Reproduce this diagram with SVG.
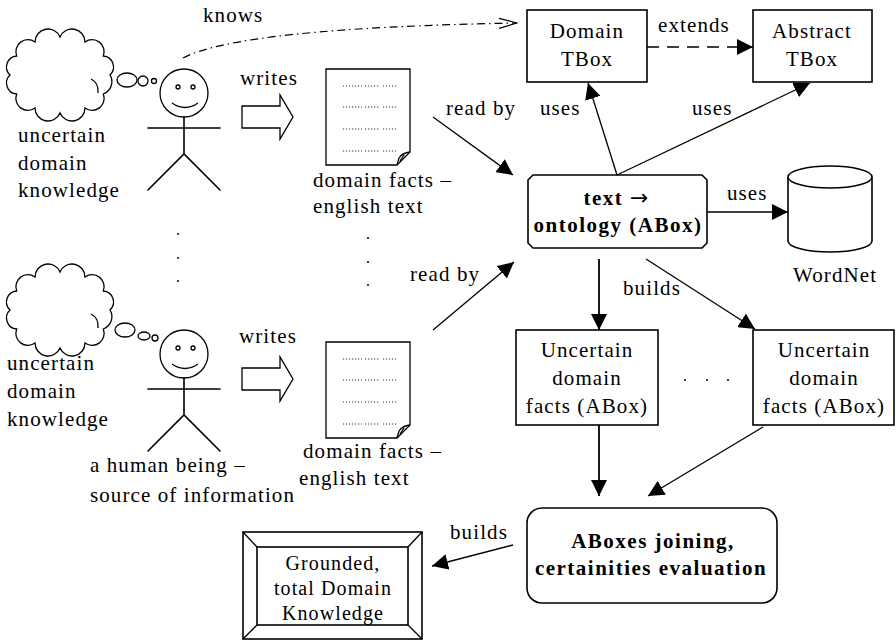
<svg xmlns="http://www.w3.org/2000/svg" width="896" height="642" viewBox="0 0 896 642">
  <style>
    text { font-family: "Liberation Serif", "Times New Roman", serif; font-size: 21px; letter-spacing: 1.1px; fill: #000; }
    .b { font-weight: bold; letter-spacing: 1.5px; }
    .mid { text-anchor: middle; }
    .small { font-size: 20px; }
    .arrowglyph { font-family: "DejaVu Sans", sans-serif; font-size: 22px; font-weight: normal; letter-spacing: 0; }
    .shape { fill: #fff; stroke: #000; stroke-width: 1.6; }
    .ln { fill: none; stroke: #000; stroke-width: 1.6; stroke-linecap: round; }
    .thin { fill: none; stroke: #000; stroke-width: 1.3; }
    .dots { stroke: #333; stroke-width: 1; stroke-dasharray: 1.2 1.8; }
    .con { fill: none; stroke: #000; stroke-width: 1.3; marker-end: url(#head); }
    .convert { fill: none; stroke: #000; stroke-width: 1.8; marker-end: url(#head); }
  </style>
  <defs>
    <marker id="head" markerWidth="16" markerHeight="16" refX="16" refY="8" orient="auto" markerUnits="userSpaceOnUse">
      <path d="M0,0 L16,8 L0,16 Z" fill="#000"/>
    </marker>
    <marker id="open" markerWidth="20" markerHeight="12" refX="19" refY="6" orient="auto" markerUnits="userSpaceOnUse">
      <path d="M1,1 L19,6 L1,11" fill="none" stroke="#000" stroke-width="1.2"/>
    </marker>
    <!-- thought cloud outline with a small inner curl -->
    <g id="cloud">
      <path class="thin" fill="#fff" d="M110,75 A13,13 0 0 1 103.3,94 A12,12 0 0 1 85,108 A13,13 0 0 1 60,113 A13,13 0 0 1 35,108 A12,12 0 0 1 16.7,94 A11,11 0 0 1 10,75 A11,11 0 0 1 16.7,56 A12,12 0 0 1 35,42 A13,13 0 0 1 60,37 A13,13 0 0 1 85,42 A12,12 0 0 1 103.3,56 A11,11 0 0 1 110,75 Z"/>
      <path class="thin" d="M91,79 Q99,83 98,93"/>
    </g>
    <!-- stick figure -->
    <g id="figure">
      <circle cx="184" cy="93" r="24" class="thin" fill="#fff"/>
      <circle cx="178" cy="87" r="2" class="thin"/>
      <circle cx="193" cy="87" r="2" class="thin"/>
      <path class="thin" d="M172,103 Q185,112 198,103"/>
      <path class="ln" d="M184,117 V154 M148,128 H220 M148,190 L184,154 L220,190"/>
    </g>
    <!-- page of text with a curled corner -->
    <g id="page">
      <path class="thin" fill="#fff" d="M326,69 H410 V152 L397,165 H326 Z"/>
      <path class="thin" d="M410,152 Q402,153 399,158 L397,165 M400,161 L404,155"/>
      <g class="dots">
        <line x1="343" y1="86" x2="362" y2="86"/><line x1="365" y1="86" x2="380" y2="86"/><line x1="383" y1="86" x2="397" y2="86"/>
        <line x1="343" y1="107" x2="362" y2="107"/><line x1="365" y1="107" x2="380" y2="107"/><line x1="383" y1="107" x2="397" y2="107"/>
        <line x1="343" y1="129" x2="362" y2="129"/><line x1="365" y1="129" x2="380" y2="129"/><line x1="383" y1="129" x2="397" y2="129"/>
        <line x1="343" y1="151" x2="362" y2="151"/><line x1="365" y1="151" x2="380" y2="151"/><line x1="383" y1="151" x2="397" y2="151"/>
      </g>
    </g>
    <!-- hollow block arrow for "writes" -->
    <path id="block" class="thin" fill="#fff" d="M242,106 H280 V95 L293,117 L280,139 V128 H242 Z"/>
  </defs>

  <rect width="896" height="642" fill="#fff"/>

  <!-- upper author -->
  <g id="thought1">
    <use href="#cloud"/>
    <ellipse cx="127" cy="80" rx="10" ry="7" class="thin"/>
    <ellipse cx="143" cy="81" rx="5" ry="5" class="thin"/>
    <circle cx="154" cy="81" r="2.5" class="thin"/>
    <text x="18" y="142">uncertain</text>
    <text x="18" y="170">domain</text>
    <text x="18" y="197">knowledge</text>
  </g>
  <g id="person1">
    <use href="#figure"/>
  </g>
  <g id="writes1">
    <use href="#block"/>
    <text x="240" y="85">writes</text>
  </g>
  <g id="doc1">
    <use href="#page"/>
    <text x="313" y="187">domain facts –</text>
    <text x="313" y="213">english text</text>
  </g>

  <!-- ellipsis between the two authors -->
  <g id="ellipsis-left" fill="#000">
    <circle cx="178" cy="234" r="1"/><circle cx="178" cy="258" r="1"/><circle cx="178" cy="281" r="1"/>
    <circle cx="368" cy="238" r="1"/><circle cx="368" cy="262" r="1"/><circle cx="368" cy="285" r="1"/>
  </g>

  <!-- lower author -->
  <g id="thought2">
    <use href="#cloud" transform="translate(0,235)"/>
    <ellipse cx="125" cy="330" rx="10" ry="7" class="thin"/>
    <ellipse cx="144" cy="336" rx="6" ry="4" class="thin"/>
    <circle cx="155" cy="338" r="3" class="thin"/>
    <text x="7" y="370">uncertain</text>
    <text x="7" y="398">domain</text>
    <text x="7" y="426">knowledge</text>
  </g>
  <g id="person2">
    <use href="#figure" transform="translate(0,261)"/>
    <text x="90" y="472">a human being –</text>
    <text x="90" y="502">source of information</text>
  </g>
  <g id="writes2">
    <use href="#block" transform="translate(0,262)"/>
    <text x="239" y="343">writes</text>
  </g>
  <g id="doc2">
    <use href="#page" transform="translate(0,273)"/>
    <text x="303" y="458">domain facts –</text>
    <text x="299" y="485">english text</text>
  </g>

  <!-- ontology side -->
  <g id="domain-tbox">
    <rect x="527" y="10" width="120" height="72" class="shape"/>
    <text x="587" y="38" class="mid">Domain</text>
    <text x="587" y="66" class="mid">TBox</text>
  </g>
  <g id="abstract-tbox">
    <rect x="753" y="10" width="119" height="72" class="shape"/>
    <text x="812" y="38" class="mid">Abstract</text>
    <text x="812" y="66" class="mid">TBox</text>
  </g>
  <g id="text2onto">
    <path class="shape" d="M533,175 H702 L707,180 V243 L702,248 H533 L528,243 V180 Z"/>
    <text x="616" y="205" class="mid b">text <tspan class="arrowglyph">→</tspan></text>
    <text x="618" y="232" class="mid b">ontology (ABox)</text>
  </g>
  <g id="wordnet">
    <path class="shape" d="M788,177 V241 A42,11 0 0 0 872,241 V177"/>
    <ellipse cx="830" cy="177" rx="42" ry="11" class="shape"/>
    <text x="793" y="282">WordNet</text>
  </g>
  <g id="facts1">
    <rect x="516" y="330" width="142" height="95" class="shape"/>
    <text x="587" y="357" class="mid">Uncertain</text>
    <text x="587" y="385" class="mid">domain</text>
    <text x="587" y="413" class="mid">facts (ABox)</text>
  </g>
  <g id="ellipsis-facts" fill="#000">
    <circle cx="685" cy="380" r="1"/><circle cx="707" cy="380" r="1"/><circle cx="728" cy="380" r="1"/>
  </g>
  <g id="facts2">
    <rect x="753" y="330" width="141" height="95" class="shape"/>
    <text x="824" y="357" class="mid">Uncertain</text>
    <text x="824" y="385" class="mid">domain</text>
    <text x="824" y="413" class="mid">facts (ABox)</text>
  </g>
  <g id="joining">
    <rect x="527" y="508" width="250" height="95" rx="15" class="shape"/>
    <text x="653" y="548" class="mid b">ABoxes joining,</text>
    <text x="651" y="575" class="mid b">certainities evaluation</text>
  </g>
  <g id="grounded">
    <rect x="243" y="532" width="179" height="107" class="shape"/>
    <rect x="257" y="547" width="151" height="78" class="shape"/>
    <path class="thin" d="M243,532 L257,547 M422,532 L408,547 M243,639 L257,625 M422,639 L408,625"/>
    <text x="333" y="570" class="mid small">Grounded,</text>
    <text x="333" y="595" class="mid small">total Domain</text>
    <text x="333" y="620" class="mid small">Knowledge</text>
  </g>

  <!-- connectors -->
  <g id="connectors">
    <path d="M183,58 Q240,28 517,23" fill="none" stroke="#000" stroke-width="1.2" stroke-dasharray="8 4 1.5 4" marker-end="url(#open)"/>
    <path d="M647,47 H753" fill="none" stroke="#000" stroke-width="1.5" stroke-dasharray="12 8" marker-end="url(#head)"/>
    <path class="con" d="M433,117 L513,175"/>
    <path class="con" d="M433,330 L514,262"/>
    <path class="con" d="M617,175 L588,83"/>
    <path class="con" d="M617,175 L810,83"/>
    <path class="con" d="M707,212 H788"/>
    <path class="convert" d="M599,259 V330"/>
    <path class="con" d="M646,259 L755,329"/>
    <path class="convert" d="M599,425 V496"/>
    <path class="con" d="M763,427 L648,496"/>
    <path class="con" d="M513,545 L432,566"/>
  </g>

  <!-- connector labels -->
  <g id="labels">
    <text x="203" y="22">knows</text>
    <text x="658" y="32">extends</text>
    <text x="446" y="115">read by</text>
    <text x="410" y="281">read by</text>
    <text x="540" y="115">uses</text>
    <text x="692" y="115">uses</text>
    <text x="727" y="200">uses</text>
    <text x="623" y="295">builds</text>
    <text x="450" y="539">builds</text>
  </g>
</svg>
